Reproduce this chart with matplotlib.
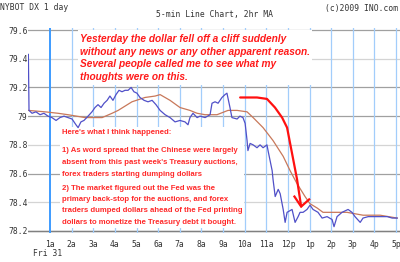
import matplotlib
matplotlib.use("Agg")
import matplotlib.pyplot as plt
from matplotlib.patches import Rectangle

# 5-min prices (hours after midnight, price)
price_hours = [0.00, 0.03, 0.17, 0.35, 0.54, 0.72, 0.91, 1.09, 1.28, 1.46, 1.65, 1.83,
               2.02, 2.20, 2.30, 2.43, 2.57, 2.76, 2.94, 3.08, 3.22, 3.36, 3.50, 3.64,
               3.77, 3.91, 4.05, 4.19, 4.33, 4.47, 4.61, 4.75, 4.88, 5.02, 5.16, 5.35,
               5.53, 5.72, 5.90, 6.09, 6.32, 6.55, 6.78, 7.01, 7.24, 7.38, 7.47, 7.61,
               7.80, 7.94, 8.17, 8.40, 8.49, 8.63, 8.77, 8.95, 9.09, 9.18, 9.32, 9.41,
               9.65, 9.78, 9.92, 10.02, 10.11, 10.15, 10.25, 10.39, 10.57, 10.71, 10.85,
               11.03, 11.08, 11.27, 11.31, 11.41, 11.55, 11.64, 11.78, 11.87, 11.96,
               12.19, 12.33, 12.47, 12.56, 12.70, 12.88, 13.02, 13.16, 13.39, 13.58,
               13.81, 14.04, 14.13, 14.27, 14.50, 14.78, 14.96, 15.10, 15.34, 15.47,
               15.71, 15.94, 16.26, 16.59, 16.82, 17.05]
prices = [79.43, 79.04, 79.02, 79.03, 79.01, 79.02, 79.00, 78.99, 78.97, 78.99, 79.00, 78.99,
          78.98, 78.94, 78.92, 78.96, 78.97, 79.00, 79.03, 79.06, 79.08, 79.06, 79.09, 79.11,
          79.14, 79.11, 79.15, 79.18, 79.17, 79.18, 79.18, 79.20, 79.17, 79.16, 79.13, 79.11,
          79.10, 79.11, 79.08, 79.04, 79.01, 78.99, 78.96, 78.97, 78.96, 78.94, 78.99, 79.02,
          78.99, 79.00, 78.99, 79.01, 79.09, 79.10, 79.09, 79.13, 79.15, 79.16, 79.06, 78.99,
          78.98, 79.00, 78.99, 78.95, 78.83, 78.76, 78.81, 78.80, 78.78, 78.80, 78.78,
          78.80, 78.76, 78.62, 78.56, 78.44, 78.49, 78.46, 78.35, 78.26, 78.33,
          78.35, 78.26, 78.30, 78.33, 78.33, 78.35, 78.38, 78.35, 78.33, 78.29,
          78.30, 78.28, 78.23, 78.30, 78.33, 78.35, 78.33, 78.30, 78.26, 78.29,
          78.30, 78.30, 78.30, 78.30, 78.29, 78.29]

# 2hr moving average
ma_hours = [0.00, 0.77, 1.37, 1.83, 2.62, 3.41, 3.87, 4.15, 4.79, 5.39, 5.86, 6.09, 6.55,
            7.01, 7.47, 7.80, 8.17, 8.72, 9.23, 9.65, 10.11, 10.39, 10.85, 11.31, 11.78,
            12.10, 12.42, 12.79, 13.02, 13.35, 13.62, 13.95, 14.73, 15.47, 16.26, 17.05]
ma_values = [79.04, 79.03, 79.02, 79.01, 78.99, 78.99, 79.02, 79.04, 79.10, 79.13, 79.14,
             79.15, 79.11, 79.06, 79.04, 79.02, 79.01, 79.01, 79.04, 79.04, 79.03, 78.99,
             78.92, 78.83, 78.72, 78.62, 78.53, 78.44, 78.39, 78.36, 78.33, 78.33, 78.33,
             78.31, 78.31, 78.29]

y_ticks = [78.2, 78.4, 78.6, 78.8, 79.0, 79.2, 79.4, 79.6]
y_labels = ["78.2", "78.4", "78.6", "78.8", "79", "79.2", "79.4", "79.6"]
x_ticks = list(range(1, 18))
x_labels = ["1a", "2a", "3a", "4a", "5a", "6a", "7a", "8a", "9a", "10a", "11a",
            "12p", "1p", "2p", "3p", "4p", "5p"]

# hand-drawn arrow (annotation)
arrow_hours = [9.79, 10.57, 11.03, 11.40, 11.73, 11.96, 12.19, 12.42, 12.61]
arrow_values = [79.13, 79.13, 79.12, 79.06, 78.99, 78.92, 78.74, 78.56, 78.37]
head_hours = [12.30, 12.61, 12.98]
head_values = [78.44, 78.37, 78.42]

top_lines = ["Yesterday the dollar fell off a cliff suddenly",
             "without any news or any other apparent reason.",
             "Several people called me to see what my",
             "thoughts were on this."]
intro_line = "Here's what I think happened:"
point_one = ["1) As word spread that the Chinese were largely",
             "absent from this past week's Treasury auctions,",
             "forex traders starting dumping dollars"]
point_two = ["2) The market figured out the Fed was the",
             "primary back-stop for the auctions, and forex",
             "traders dumped dollars ahead of the Fed printing",
             "dollars to monetize the Treasury debt it bought."]

W, H = 400, 262
fig = plt.figure(figsize=(4.0, 2.62), dpi=100)
fig.patch.set_facecolor("white")

ax = fig.add_axes([28 / W, 1 - 233 / H, 372 / W, 205 / H])
ax.set_xlim(-0.017, 17.18)
ax.set_ylim(78.186, 79.614)
for s in ax.spines.values():
    s.set_visible(False)

mono = "DejaVu Sans Mono"
txt_col = "#333333"

# horizontal grid
for v in y_ticks:
    light = v in (79.4, 78.8, 78.4)
    ax.axhline(v, color="#d4d4d4" if light else "#a0a0a0", lw=0.9, zorder=1)
ax.axhline(78.2, color="#808080", lw=1.0, zorder=1)

# vertical grid
for h in x_ticks:
    if h == 1:
        ax.axvline(h, color="#3d9bff", lw=1.4, zorder=1)
    else:
        ax.axvline(h, color="#a2cdfb", lw=0.9, zorder=1)

ax.set_yticks(y_ticks)
ax.set_yticklabels(y_labels, fontfamily=mono, fontsize=5.8, color=txt_col)
ax.set_xticks(x_ticks)
ax.set_xticklabels(x_labels, fontfamily=mono, fontsize=5.8, color=txt_col)
ax.tick_params(axis="y", length=0, pad=0.3)
ax.tick_params(axis="x", length=0, pad=5)

# white patches behind the notes (hide the grid there, lines stay on top)
for x0, y0, w, h in [(78, 30, 234, 55), (60, 127, 184, 101)]:
    ax.add_patch(Rectangle((x0 / W, 1 - (y0 + h) / H), w / W, h / H,
                           transform=fig.transFigure, facecolor="white",
                           edgecolor="none", zorder=2, clip_on=False))

ax.plot(ma_hours, ma_values, color="#c8785a", lw=0.9, zorder=3)
ax.plot(price_hours, prices, color="#5050c8", lw=0.9, zorder=4)

ax.plot(arrow_hours, arrow_values, color="#ff1010", lw=1.6, zorder=6,
        solid_capstyle="round")
ax.plot(head_hours, head_values, color="#ff1010", lw=1.6, zorder=6)

# header texts
fig.text(0 / W, 1 - 8 / H, "NYBOT DX 1 day", fontfamily=mono, fontsize=5.8,
         color=txt_col, ha="left", va="center")
fig.text(214 / W, 1 - 15 / H, "5-min Line Chart, 2hr MA", fontfamily=mono,
         fontsize=5.8, color=txt_col, ha="center", va="center")
fig.text(398 / W, 1 - 8 / H, "(c)2009 INO.com", fontfamily=mono, fontsize=5.8,
         color=txt_col, ha="right", va="center")
fig.text(33 / W, 1 - 254 / H, "Fri 31", fontfamily=mono, fontsize=5.8,
         color=txt_col, ha="left", va="center")

for i, line in enumerate(top_lines):
    fig.text(80 / W, 1 - (39 + 12.6 * i) / H, line, fontfamily="Liberation Sans",
             fontsize=7.3, fontweight="bold", fontstyle="italic", color="#ff1a1a",
             ha="left", va="center", zorder=5)

note_kw = dict(fontfamily="Liberation Sans", fontsize=5.55, fontweight="bold",
               color="#ff2a2a", ha="left", va="center", zorder=5)
fig.text(62 / W, 1 - 133 / H, intro_line, **note_kw)
for i, line in enumerate(point_one):
    fig.text(62 / W, 1 - (151 + 11.5 * i) / H, line, **note_kw)
for i, line in enumerate(point_two):
    fig.text(62 / W, 1 - (188 + 11.4 * i) / H, line, **note_kw)

fig.savefig("out.png", dpi=100)
